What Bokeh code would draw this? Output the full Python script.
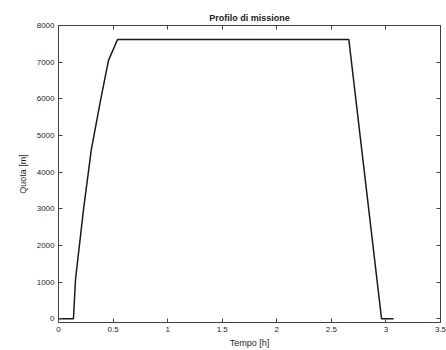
from bokeh.plotting import figure
from bokeh.models import LinearAxis, FixedTicker, Range1d, Title
from bokeh.embed import file_html
from bokeh.resources import INLINE

# Mission profile: time [h] vs altitude [m]
tempo_h = [0.0, 0.137, 0.156, 0.229, 0.30, 0.385, 0.458, 0.541, 2.66, 2.96, 3.07]
quota_m = [0, 0, 1080, 2980, 4600, 5960, 7050, 7620, 7620, 0, 0]

x_ticks = [0, 0.5, 1, 1.5, 2, 2.5, 3, 3.5]
y_ticks = [0, 1000, 2000, 3000, 4000, 5000, 6000, 7000, 8000]

FONT = "Liberation Sans"
AX_COL = "#404040"

p = figure(width=446, height=350, output_backend="svg", toolbar_location=None,
           x_range=Range1d(0, 3.5), y_range=Range1d(-100, 8000),
           min_border_left=58, min_border_right=6, min_border_top=25, min_border_bottom=4)
p.title = Title(text="Profilo di missione", align="center", text_font=FONT,
                text_font_size="9px", text_font_style="bold", text_color="#222222",
                standoff=5, offset=0)
p.background_fill_color = "white"
p.border_fill_color = "white"
p.outline_line_color = None
p.xgrid.visible = False
p.ygrid.visible = False

p.line(tempo_h, quota_m, line_color="#1a1a1a", line_width=1.5)

def style(ax, labels=True):
    ax.axis_line_color = AX_COL
    ax.major_tick_line_color = AX_COL
    ax.major_tick_in = 4
    ax.major_tick_out = 0
    ax.minor_tick_line_color = None
    ax.major_label_text_font = FONT
    ax.major_label_text_font_size = "8px"
    ax.major_label_text_color = "#262626"
    ax.axis_label_text_font = FONT
    ax.axis_label_text_font_size = "9px"
    ax.axis_label_text_font_style = "normal"
    ax.axis_label_text_color = "#262626"
    if not labels:
        ax.major_label_text_font_size = "0px"
        ax.major_label_text_color = None

xa = p.xaxis[0]
xa.ticker = FixedTicker(ticks=x_ticks)
xa.axis_label = "Tempo [h]"
xa.axis_label_standoff = 3
style(xa)
xa.major_label_standoff = 4

ya = p.yaxis[0]
ya.ticker = FixedTicker(ticks=y_ticks)
ya.axis_label = "Quota [m]"
ya.axis_label_standoff = 6
style(ya)
ya.major_label_standoff = 4

top = LinearAxis(ticker=FixedTicker(ticks=x_ticks))
style(top, labels=False)
p.add_layout(top, "above")
right = LinearAxis(ticker=FixedTicker(ticks=y_ticks))
style(right, labels=False)
p.add_layout(right, "right")

open("out.html", "w").write(file_html(p, INLINE))
